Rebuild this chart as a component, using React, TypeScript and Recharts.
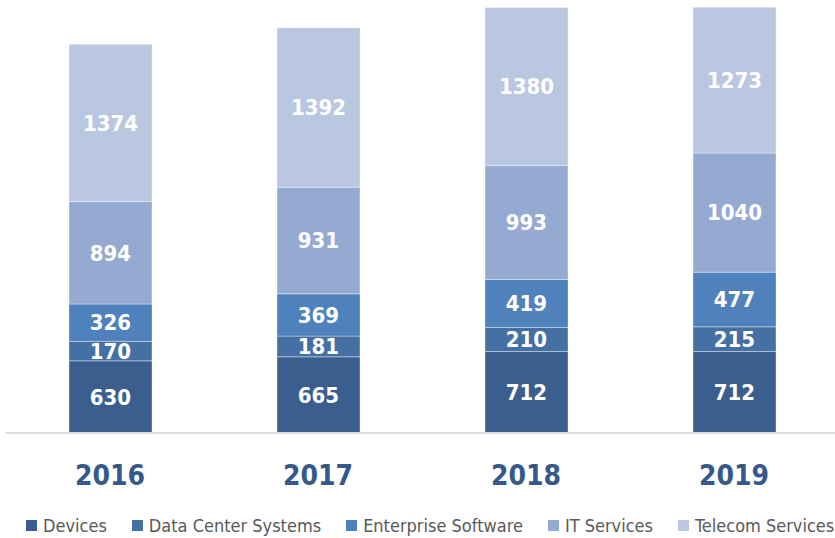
import React from 'react';
import { BarChart, Bar, XAxis, YAxis, Legend, LabelList } from 'recharts';

const years = ['2016', '2017', '2018', '2019'];
const devices = [630, 665, 712, 712];
const dataCenter = [170, 181, 210, 215];
const enterprise = [326, 369, 419, 477];
const itServices = [894, 931, 993, 1040];
const telecom = [1374, 1392, 1380, 1273];

const series = [
  { key: 'devices', name: 'Devices', color: '#3A5F8E' },
  { key: 'dataCenter', name: 'Data Center Systems', color: '#4470A3' },
  { key: 'enterprise', name: 'Enterprise Software', color: '#4F81BD' },
  { key: 'itServices', name: 'IT Services', color: '#95AAD1' },
  { key: 'telecom', name: 'Telecom Services', color: '#B9C7E1' },
];

const data = years.map((year, i) => ({
  year,
  devices: devices[i],
  dataCenter: dataCenter[i],
  enterprise: enterprise[i],
  itServices: itServices[i],
  telecom: telecom[i],
}));

const FONT = '"Liberation Sans Narrow", "DejaVu Sans Condensed", "Open Sans", sans-serif';

const YearTick = (props: any) => {
  const { x, y, payload } = props;
  return (
    <text x={x} y={y + 44} textAnchor="middle" fill="#34598A" fontSize={28} fontWeight="bold" fontFamily={FONT}>
      {payload.value}
    </text>
  );
};

// legend keeps the series order (recharts would sort it by name)
const LegendBox = () => (
  <div style={{ display: 'flex', alignItems: 'center', paddingLeft: 26, paddingTop: 8, fontFamily: FONT, fontSize: 18, color: '#595959' }}>
    {series.map((s) => (
      <div key={s.key} style={{ display: 'flex', alignItems: 'center', marginRight: 25 }}>
        <span style={{ width: 11, height: 11, background: s.color, marginRight: 6, display: 'inline-block' }} />
        <span style={{ whiteSpace: 'nowrap' }}>{s.name}</span>
      </div>
    ))}
  </div>
);

export default function App() {
  return (
    <div style={{ position: 'absolute', left: 0, top: 0, width: 835, height: 538, overflow: 'hidden', background: '#fff' }}>
      <BarChart width={838} height={538} data={data} margin={{ top: 0, right: 0, bottom: 0, left: 6 }} barSize={83}>
        <XAxis
          dataKey="year"
          axisLine={{ stroke: '#D9D9D9', strokeWidth: 2 }}
          tickLine={false}
          tick={<YearTick />}
          height={74}
          interval={0}
        />
        <YAxis hide domain={[0, 3780]} />
        <Legend verticalAlign="bottom" height={31} content={<LegendBox />} wrapperStyle={{ left: 0, width: 835 }} />
        {series.map((s) => (
          <Bar key={s.key} dataKey={s.key} name={s.name} stackId="a" fill={s.color} stroke="#ffffff" strokeOpacity={0.35} strokeWidth={1} isAnimationActive={false}>
            <LabelList dataKey={s.key} position="center" fill="#ffffff" fontSize={22} fontWeight="bold" fontFamily={FONT} />
          </Bar>
        ))}
      </BarChart>
    </div>
  );
}
